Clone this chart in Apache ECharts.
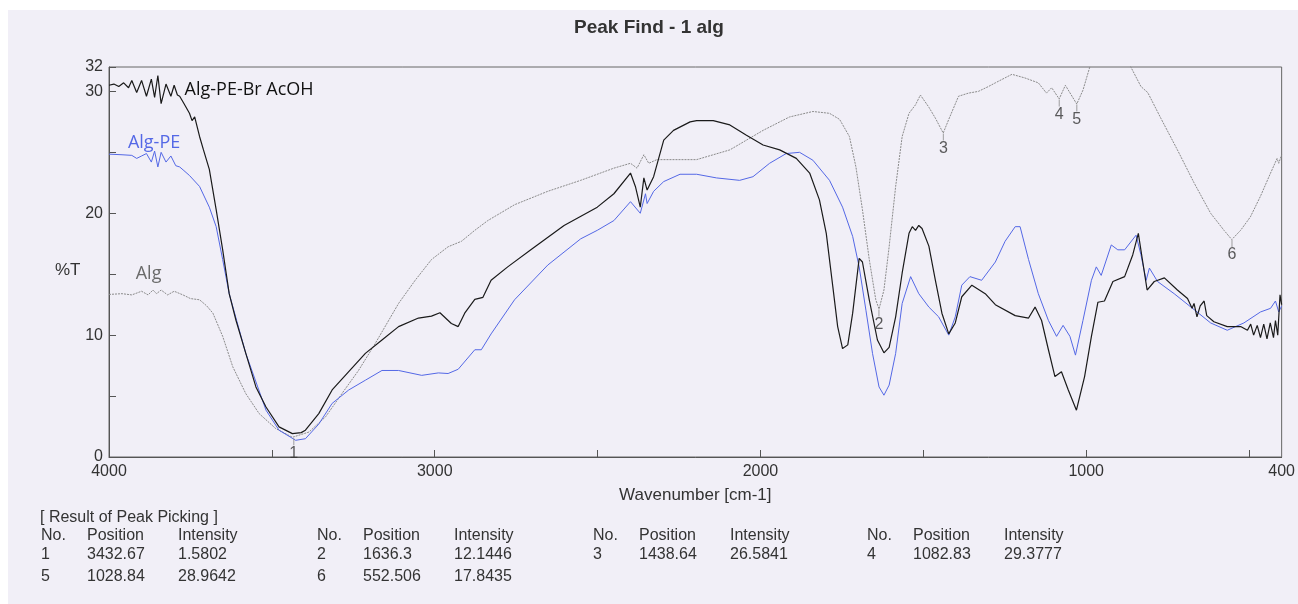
<!DOCTYPE html>
<html>
<head>
<meta charset="utf-8">
<script src="https://cdn.jsdelivr.net/npm/echarts@6/dist/echarts.min.js"></script>
<style>
  html, body { margin: 0; padding: 0; background: #fff; }
  #chart { width: 1298px; height: 604px; }
</style>
</head>
<body>
<div id="chart"></div>
<script>
// Alg-PE-Br AcOH (black)
const brWn = [4000,3985,3970,3955,3940,3930,3915,3900,3885,3870,3860,3850,3840,3825,3810,3800,3790,3783,3770,3753,3745,3737,3722,3710,3692,3671,3651,3631,3610,3580,3549,3518,3478,3437,3410,3397,3356,3315,3264,3213,3162,3111,3050,3010,2984,2949,2928,2908,2877,2852,2827,2776,2705,2603,2501,2450,2399,2384,2369,2358,2348,2328,2297,2267,2216,2196,2145,2094,2043,1992,1941,1890,1849,1819,1798,1778,1763,1748,1732,1717,1697,1687,1666,1641,1621,1605,1585,1565,1544,1534,1524,1514,1504,1483,1463,1443,1422,1402,1382,1351,1310,1279,1218,1177,1157,1137,1116,1096,1076,1055,1030,1005,984,964,944,918,882,857,840,827,813,791,760,720,689,675,669,660,650,638,630,608,567,526,505,495,486,475,465,455,445,435,425,419,412,405,400];
const brT = [30.5,30.6,30.4,30.7,30.3,30.9,29.9,30.9,29.6,31.0,29.5,31.3,29.0,30.6,29.6,30.5,29.7,29.6,29.0,28.2,27.6,27.9,26.3,25.2,23.6,20.3,17.0,13.4,11.2,8.5,5.75,4.1,2.47,1.92,2.0,2.2,3.56,5.5,7.0,8.5,9.6,10.7,11.4,11.56,11.84,10.95,10.7,11.8,12.93,13.1,14.5,15.6,17.0,19.0,20.5,21.6,23.3,22.2,20.5,22.9,21.9,23.0,26.0,26.8,27.5,27.6,27.6,27.25,26.4,25.6,25.2,24.5,23.3,21.1,18.35,14.0,10.7,8.9,9.2,11.8,16.3,16.0,12.9,9.6,8.55,9.0,11.5,15.1,18.35,18.9,18.6,19.0,18.75,17.3,14.5,11.8,10.1,11.0,13.15,14.1,13.4,12.5,11.6,11.4,12.3,11.2,8.8,6.6,7.0,5.5,3.84,6.6,9.9,12.7,12.8,14.4,14.8,16.6,18.35,16.1,13.7,14.4,14.7,13.7,13.0,12.2,12.6,11.5,12.4,12.8,11.6,11.1,10.7,10.7,10.4,10.9,10.0,10.8,9.8,10.9,9.7,11.0,9.8,11.2,10.0,13.3,12.5];

// Alg-PE (blue)
const peWn = [4000,3960,3930,3915,3900,3885,3870,3860,3850,3840,3825,3810,3795,3783,3770,3753,3722,3692,3671,3651,3631,3580,3518,3478,3427,3397,3356,3315,3264,3213,3162,3111,3040,2989,2959,2928,2877,2857,2827,2755,2653,2552,2501,2450,2399,2369,2353,2348,2328,2297,2247,2196,2135,2064,2023,1972,1921,1880,1839,1788,1748,1717,1697,1676,1656,1636,1621,1605,1585,1565,1539,1514,1483,1453,1422,1402,1382,1357,1321,1279,1249,1218,1203,1177,1147,1116,1091,1071,1050,1033,1010,984,969,954,923,903,882,847,832,816,806,781,730,669,618,567,516,465,434,419,409,400];
const peT = [24.85,24.8,24.75,24.5,24.7,24.9,24.2,25.1,23.8,25.0,24.2,24.7,23.9,23.8,23.5,23.1,22.2,20.5,18.9,16.2,13.4,8.5,3.84,2.2,1.37,1.5,2.7,4.4,5.5,6.3,7.1,7.1,6.7,6.9,6.85,7.2,8.8,8.8,10.1,12.9,15.75,17.9,18.6,19.4,20.95,20.0,21.6,20.8,21.8,22.6,23.2,23.2,22.9,22.7,23.0,24.1,24.9,25.0,24.35,22.7,20.5,18.1,15.6,12.0,8.5,5.75,5.07,5.9,8.5,12.6,14.8,13.4,12.3,11.5,10.0,11.5,14.1,14.8,14.5,16.0,17.7,18.9,18.9,16.2,13.4,11.2,9.9,10.8,9.9,8.36,11.2,14.5,15.6,14.9,17.4,17.0,17.0,18.2,16.6,14.5,15.5,14.4,13.4,12.1,11.0,10.4,11.0,11.9,12.2,12.8,11.9,12.4];

// Alg (gray)
const algWn = [4000,3960,3930,3900,3880,3865,3854,3840,3820,3800,3773,3750,3722,3700,3681,3651,3620,3580,3539,3488,3437,3386,3335,3285,3234,3183,3111,3060,3010,2959,2918,2877,2837,2755,2653,2552,2450,2399,2379,2358,2343,2318,2196,2094,1992,1911,1839,1788,1757,1727,1707,1687,1666,1646,1636,1621,1605,1585,1565,1544,1524,1509,1483,1463,1439,1422,1392,1361,1331,1300,1279,1228,1188,1147,1122,1106,1083,1064,1029,1010,989,960,900,863,832,811,771,720,669,618,577,553,526,496,465,434,414,409,400];
const algT = [13.34,13.4,13.3,13.6,13.3,13.7,13.4,13.7,13.3,13.6,13.3,13.0,12.9,12.4,11.8,9.9,7.4,5.2,3.56,2.33,1.62,2.05,3.3,5.2,7.1,9.3,12.6,14.5,16.2,17.25,17.7,18.6,19.4,20.7,21.8,22.7,23.7,24.1,23.7,24.8,24.1,24.4,24.4,25.2,26.8,27.9,28.35,28.2,27.7,26.3,23.8,20.3,16.2,12.9,12.14,13.7,17.25,22.2,26.3,28.2,28.9,29.7,28.7,27.8,26.58,27.7,29.6,29.86,30.0,30.4,30.7,31.4,31.1,30.7,29.86,30.3,29.38,30.5,28.96,30.1,32.0,33.5,33.5,32.0,30.4,29.9,27.8,25.2,22.5,20.0,18.6,17.84,18.6,19.7,21.4,23.3,24.5,24.1,24.8];

// peak picking result
const peakNo = ['1', '2', '3', '4', '5', '6'];
const peakPos = ['3432.67', '1636.3', '1438.64', '1082.83', '1028.84', '552.506'];
const peakInt = ['1.5802', '12.1446', '26.5841', '29.3777', '28.9642', '17.8435'];

const xTicks = [4000, 3500, 3000, 2500, 2000, 1500, 1000, 500];
const xLabels = [4000, 3000, 2000, 1000, 400];
const yTicks = [0, 5, 10, 15, 20, 25, 30, 32];
const yLabels = [0, 10, 20, 30, 32];

const FONT = '"Liberation Sans", Arial, sans-serif';
const pairs = (xs, ys) => xs.map((x, i) => [x, ys[i]]);

// table text under the chart
const table = [];
table.push({ type: 'text', left: 40, top: 510, style: { text: '[ Result of Peak Picking ]', font: '16px ' + FONT, fill: '#333' } });
const groupX = [41, 317, 593, 867];
const colX = [0, 46, 137];
const rowY = [528, 547, 569];
for (let i = 0; i < peakNo.length; i++) {
  const g = i % 4;
  const r = Math.floor(i / 4);
  if (r === 0) {
    ['No.', 'Position', 'Intensity'].forEach((t, c) => {
      table.push({ type: 'text', left: groupX[g] + colX[c], top: rowY[0], style: { text: t, font: '16px ' + FONT, fill: '#333' } });
    });
  }
  [peakNo[i], peakPos[i], peakInt[i]].forEach((t, c) => {
    table.push({ type: 'text', left: groupX[g] + colX[c], top: rowY[r + 1], style: { text: t, font: '16px ' + FONT, fill: '#333' } });
  });
}

const chart = echarts.init(document.getElementById('chart'));

const seriesLabel = (coord, text, color) => ({
  symbol: 'circle',
  symbolSize: 0,
  data: [{
    coord: coord,
    label: {
      show: true, position: 'right', distance: 0, formatter: text,
      color: color, fontSize: 18, fontFamily: '"Open Sans", sans-serif'
    }
  }]
});

chart.setOption({
  backgroundColor: '#ffffff',
  animation: false,
  title: {
    text: 'Peak Find - 1 alg',
    left: 'center',
    top: 13,
    textStyle: { fontSize: 19, fontWeight: 'bold', color: '#333', fontFamily: FONT }
  },
  graphic: [
    { type: 'rect', left: 8, top: 10, z: -10, shape: { width: 1290, height: 594 }, style: { fill: '#f1eff7' } },
    { type: 'text', left: 55, top: 262, style: { text: '%T', font: '17px ' + FONT, fill: '#333' } }
  ].concat(table),
  grid: {
    left: 109, right: 12, top: 67, bottom: 147,
    show: true, borderColor: '#666', borderWidth: 1, backgroundColor: 'transparent'
  },
  xAxis: {
    type: 'value',
    inverse: true,
    min: 400,
    max: 4000,
    name: 'Wavenumber [cm-1]',
    nameLocation: 'middle',
    nameGap: 30,
    nameTextStyle: { fontSize: 17, color: '#333', fontFamily: FONT },
    axisLine: { show: true, lineStyle: { color: '#555' } },
    axisTick: { show: true, inside: true, length: 7, customValues: xTicks, lineStyle: { color: '#555' } },
    axisLabel: {
      customValues: xLabels, fontSize: 16, color: '#333', margin: 7, fontFamily: FONT,
      formatter: (v) => String(v)
    },
    splitLine: { show: false }
  },
  yAxis: {
    type: 'value',
    min: 0,
    max: 32,
    axisLine: { show: true, lineStyle: { color: '#555' } },
    axisTick: { show: true, inside: true, length: 7, customValues: yTicks, lineStyle: { color: '#555' } },
    axisLabel: {
      customValues: yLabels, fontSize: 16, color: '#333', margin: 6, fontFamily: FONT,
      padding: [4, 0, 0, 0]
    },
    splitLine: { show: false }
  },
  series: [
    {
      name: 'Alg',
      type: 'line',
      data: pairs(algWn, algT),
      showSymbol: false,
      clip: true,
      lineStyle: { color: '#8a8a8a', width: 1, type: [2, 1] },
      markPoint: seriesLabel([3918, 15.0], 'Alg', '#6a6a6a')
    },
    {
      name: 'Alg-PE',
      type: 'line',
      data: pairs(peWn, peT),
      showSymbol: false,
      clip: true,
      lineStyle: { color: '#5468e6', width: 1 },
      markPoint: seriesLabel([3942, 25.8], 'Alg-PE', '#5468e6')
    },
    {
      name: 'Alg-PE-Br AcOH',
      type: 'line',
      data: pairs(brWn, brT),
      showSymbol: false,
      clip: true,
      lineStyle: { color: '#1a1a1a', width: 1.2 },
      markPoint: seriesLabel([3768, 30.1], 'Alg-PE-Br AcOH', '#111')
    },
    {
      name: 'peaks',
      type: 'scatter',
      data: peakPos.map((p, i) => [parseFloat(p), parseFloat(peakInt[i])]),
      symbol: 'rect',
      symbolSize: [1, 7],
      symbolOffset: [0, 4],
      itemStyle: { color: '#888' },
      label: {
        show: true, position: 'bottom', distance: 0,
        formatter: (p) => peakNo[p.dataIndex],
        fontSize: 16, color: '#333', fontFamily: FONT
      },
      z: 5
    }
  ]
});
</script>
</body>
</html>
